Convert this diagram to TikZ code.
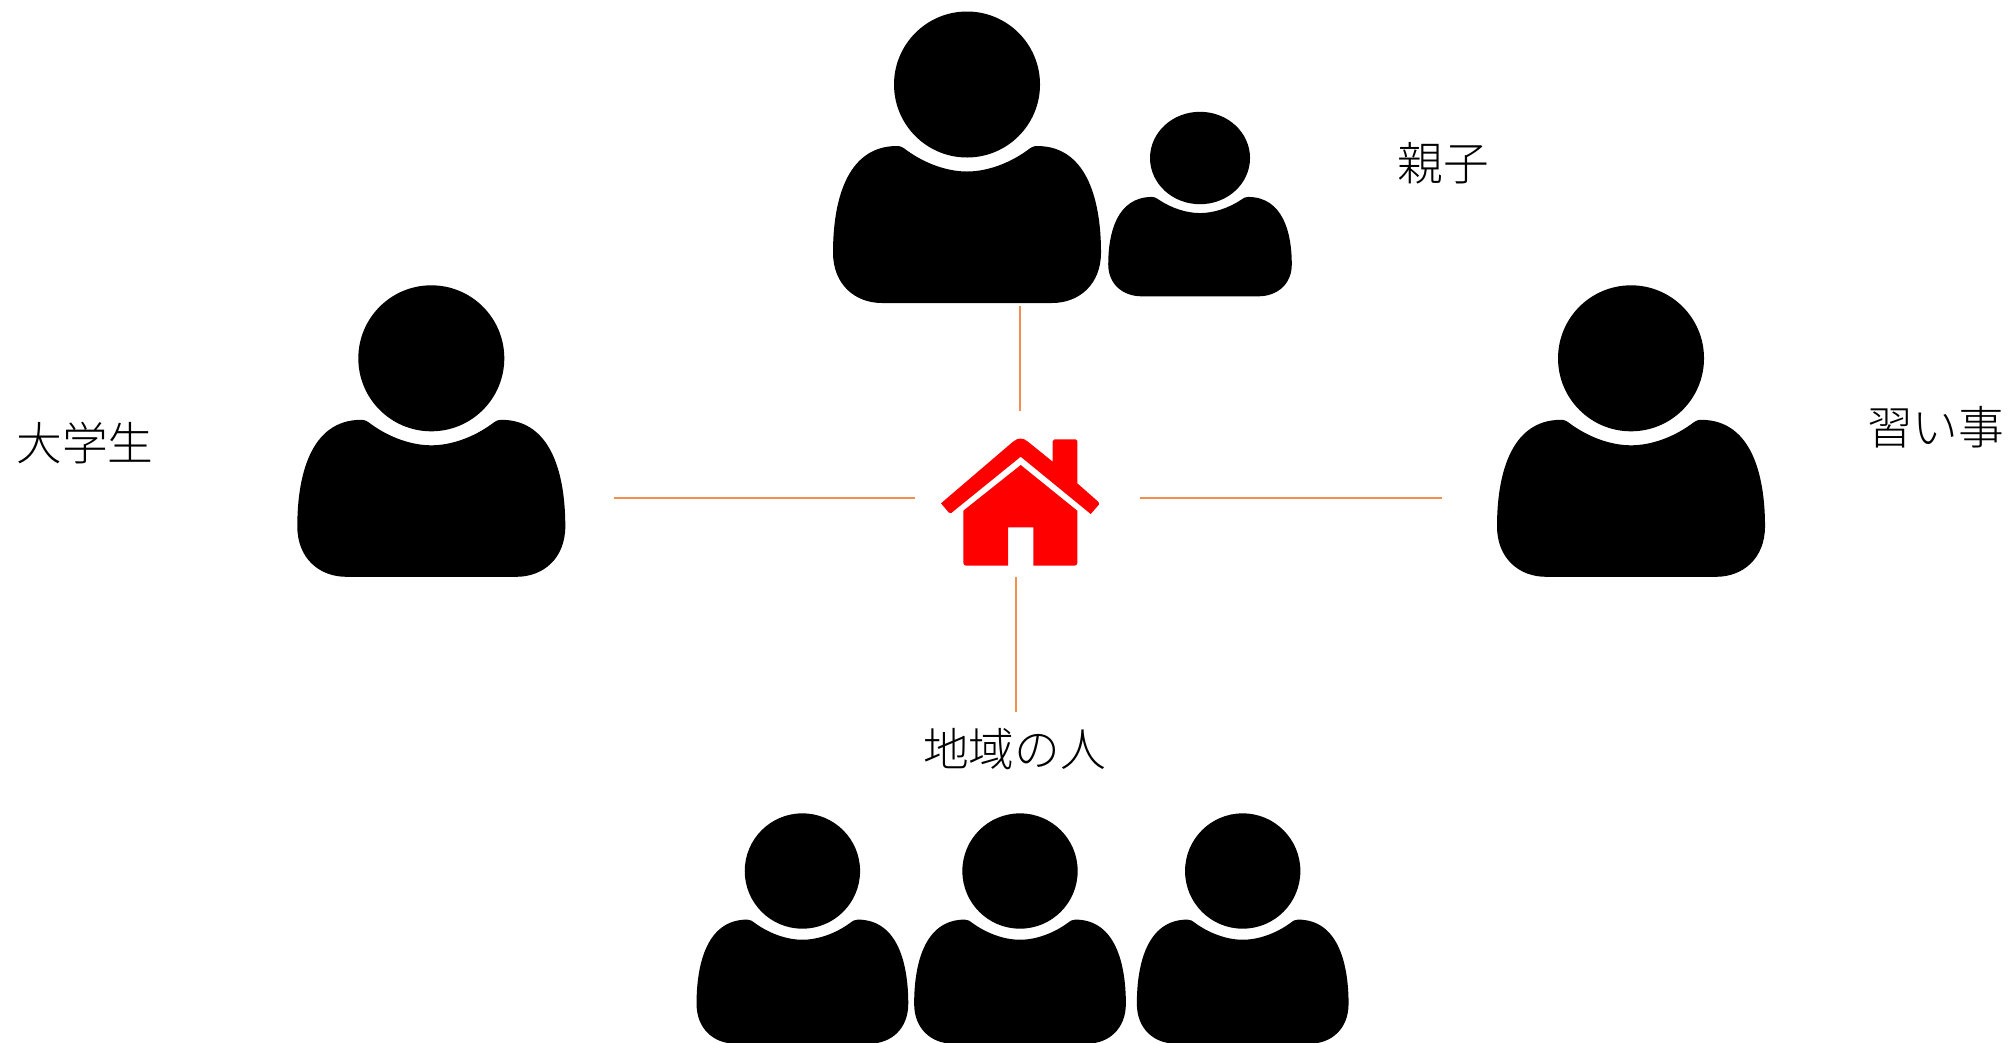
\documentclass[tikz,border=0pt]{standalone}
\usepackage{fontspec}
\setmainfont{Noto Sans CJK JP Light}
\definecolor{linkorange}{HTML}{F08F4F}
\tikzset{
  label/.style={font=\fontsize{13}{13}\selectfont, inner sep=0pt},
  link/.style={draw=linkorange, line width=.45pt},
  person/.pic={
    \fill (0,0) circle[radius=73];
    \fill (-70,61.5) .. controls (-66,61.5) and (-64,63) .. (-60,66)
      .. controls (-42,79) and (-20,87) .. (0,87)
      .. controls (20,87) and (42,79) .. (60,66)
      .. controls (64,63) and (66,61.5) .. (70,61.5)
      .. controls (122,61.5) and (134,120) .. (134,168)
      .. controls (134,200) and (112,218.5) .. (85,218.5)
      -- (-85,218.5)
      .. controls (-112,218.5) and (-134,200) .. (-134,168)
      .. controls (-134,120) and (-122,61.5) .. (-70,61.5) -- cycle;
  }
}
\begin{document}
\begin{tikzpicture}[x=0.01cm,y=-0.01cm]
        \useasboundingbox (0,0) rectangle (2013,1042);
        \pic (parent) at (967,84.5) {person};
        \pic[xscale=.685,yscale=.633] (child) at (1200,158) {person};
        \pic (student) at (431.3,358.3) {person};
        \pic (lesson) at (1631,358.3) {person};
        \pic[scale=.79] (localA) at (802.4,871) {person};
        \pic[scale=.79] (localB) at (1020,871) {person};
        \pic[scale=.79] (localC) at (1242.7,871) {person};
        \node[label] at (1443,163) (oyako) {親子};
        \node[label] at (85,443) (daigakusei) {大学生};
        \node[label] at (1935.7,427) (naraigoto) {習い事};
        \node[label] at (1014.5,749) (chiiki) {地域の人};
        \fill[red, rounded corners=.5pt] (941,503.3) -- (950,514) [sharp corners] -- (1020.7,456.7) -- (1090.7,514) [rounded corners=.5pt] -- (1100,503.3)
          [sharp corners] -- (1077.3,483.3) [rounded corners=.5pt] -- (1077.3,439.3) -- (1052.7,439.3) [sharp corners] -- (1052.7,461.7) -- (1028,441.7)
          .. controls (1023,437.5) and (1018,437.5) .. (1013,441.7) -- cycle;
        \fill[red] (1020.7,465) -- (963.3,510.7) [rounded corners=.8pt] -- (963.3,565.7) [sharp corners] -- (1008,565.7) -- (1008,527.3)
          -- (1033.3,527.3) -- (1033.3,565.7) [rounded corners=.8pt] -- (1077.3,565.7) [sharp corners] -- (1077.3,510.7) -- cycle;
        \coordinate (topA) at (1020,305.5);
        \coordinate (topB) at (1020,411);
        \coordinate (leftA) at (613.5,498);
        \coordinate (leftB) at (915,498);
        \coordinate (rightA) at (1140,498);
        \coordinate (rightB) at (1442,498);
        \coordinate (downA) at (1016,577);
        \coordinate (downB) at (1016,711.7);
        \draw[link] (topA) -- (topB);
        \draw[link] (leftA) -- (leftB);
        \draw[link] (rightA) -- (rightB);
        \draw[link] (downA) -- (downB);
      \end{tikzpicture}
\end{document}
